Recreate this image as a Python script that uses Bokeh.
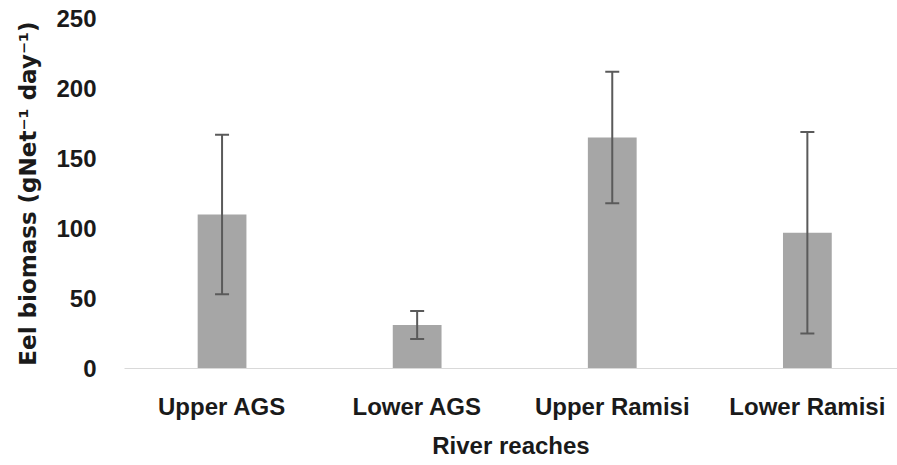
from bokeh.plotting import figure
from bokeh.models import ColumnDataSource, Range1d, FixedTicker, Whisker, TeeHead
from bokeh.embed import file_html
from bokeh.resources import INLINE

categories = ["Upper AGS", "Lower AGS", "Upper Ramisi", "Lower Ramisi"]
biomass = [110, 31, 165, 97]
error = [57, 10, 47, 72]
y_ticks = [0, 50, 100, 150, 200, 250]

xpos = [i + 0.5 for i in range(len(categories))]
src = ColumnDataSource(dict(
    x=xpos,
    top=biomass,
    upper=[b + e for b, e in zip(biomass, error)],
    lower=[b - e for b, e in zip(biomass, error)],
))

FONT = "Liberation Sans"

p = figure(width=897, height=465, output_backend="svg", toolbar_location=None,
           x_range=Range1d(0, 3.962), y_range=Range1d(0, 250),
           min_border_left=124, min_border_right=0, min_border_top=18,
           min_border_bottom=97)
p.outline_line_color = None
p.xgrid.visible = False
p.ygrid.visible = False
p.background_fill_color = "white"
p.border_fill_color = "white"

p.vbar(x="x", top="top", width=0.25, source=src, fill_color="#a6a6a6",
       line_color=None)

w = Whisker(base="x", upper="upper", lower="lower", source=src,
            line_color="#5a5a5a", line_width=2, level="overlay",
            upper_head=TeeHead(size=14, line_color="#5a5a5a", line_width=2),
            lower_head=TeeHead(size=14, line_color="#5a5a5a", line_width=2))
p.add_layout(w)

# x axis
xa = p.xaxis[0]
xa.ticker = FixedTicker(ticks=xpos)
xa.major_label_overrides = {x: c for x, c in zip(xpos, categories)}
xa.axis_line_color = "#d9d9d9"
xa.axis_line_width = 1
xa.major_tick_line_color = None
xa.minor_tick_line_color = None
xa.major_tick_out = 0
xa.major_label_standoff = 24
xa.major_label_text_font = FONT
xa.major_label_text_font_style = "bold"
xa.major_label_text_font_size = "24px"
xa.major_label_text_color = "#1a1a1a"
xa.axis_label = "River reaches"
xa.axis_label_text_font = FONT
xa.axis_label_text_font_style = "bold"
xa.axis_label_text_font_size = "24px"
xa.axis_label_text_color = "#1a1a1a"
xa.axis_label_standoff = 9

# y axis
ya = p.yaxis[0]
ya.ticker = FixedTicker(ticks=y_ticks)
ya.axis_line_color = None
ya.major_tick_line_color = None
ya.minor_tick_line_color = None
ya.major_tick_out = 0
ya.major_label_standoff = 28
ya.major_label_text_font = FONT
ya.major_label_text_font_style = "bold"
ya.major_label_text_font_size = "24px"
ya.major_label_text_color = "#1a1a1a"
ya.axis_label = "Eel biomass (gNet\u207b\u00b9 day\u207b\u00b9)"
ya.axis_label_text_font = "DejaVu Sans"
ya.axis_label_text_font_style = "bold"
ya.axis_label_text_font_size = "23px"
ya.axis_label_text_color = "#1a1a1a"
ya.axis_label_standoff = 12

open("out.html", "w").write(file_html(p, INLINE))
